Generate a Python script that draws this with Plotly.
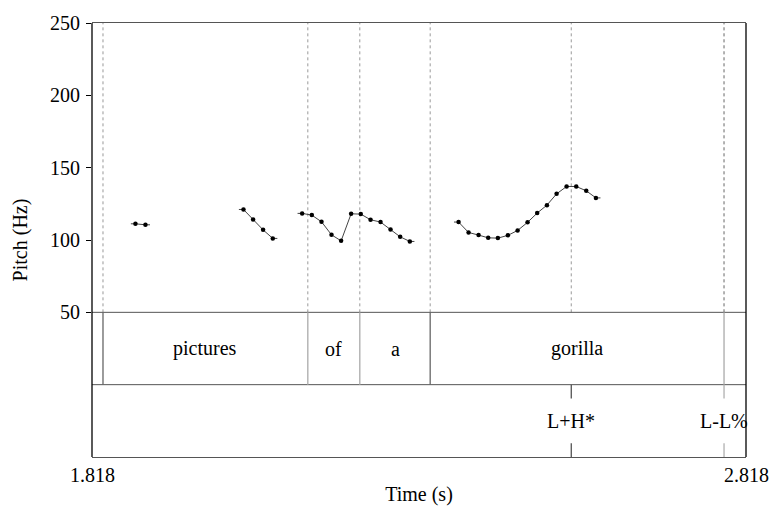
import plotly.graph_objects as go

# ---- data -----------------------------------------------------------------
t_min, t_max = 1.818, 2.818
x_tick_vals = [1.818, 2.818]
x_tick_text = ["1.818", "2.818"]
y_tick_vals = [50, 100, 150, 200, 250]

# pitch contour segments (time s, F0 Hz)
seg1_t = [1.8844, 1.8997]
seg1_f = [111.2, 110.5]
seg2_t = [2.0496, 2.0643, 2.0796, 2.0944]
seg2_f = [121.1, 114.2, 107.0, 101.1]
seg3_t = [2.1393, 2.1541, 2.1689, 2.1842, 2.1989, 2.2142, 2.2290, 2.2439,
          2.2592, 2.2745, 2.2892, 2.3040]
seg3_f = [118.4, 117.2, 112.6, 103.6, 99.4, 118.1, 117.9, 114.0, 112.4,
          107.3, 102.2, 99.0]
seg4_t = [2.3785, 2.3938, 2.4091, 2.4238, 2.4386, 2.4539, 2.4688, 2.4840,
          2.4987, 2.5136, 2.5284, 2.5437, 2.5584, 2.5737, 2.5885]
seg4_f = [112.4, 105.2, 103.4, 101.5, 101.3, 103.2, 106.6, 112.2, 118.6,
          124.1, 131.9, 137.0, 137.0, 134.0, 129.1]
segments = [(seg1_t, seg1_f), (seg2_t, seg2_f), (seg3_t, seg3_f), (seg4_t, seg4_f)]

# word tier
word_bounds = [1.8348, 2.1480, 2.2275, 2.3351, 2.7844]
word_bound_dark = [True, False, False, True, False]
words = ["pictures", "of", "a", "gorilla"]

# tone tier (points)
tone_times = [2.5508, 2.7844]
tone_labels = ["L+H*", "L-L%"]
tone_dark = [True, False]

# ---- figure ---------------------------------------------------------------
FONT = "Liberation Serif"
FS = 20
fig = go.Figure()

half = 0.007
for ts, fs in segments:
    # edge stubs (half frame)
    fig.add_trace(go.Scatter(x=[ts[0] - half, ts[0]], y=[fs[0], fs[0]], mode="lines",
                             line=dict(color="#444", width=1), hoverinfo="skip", showlegend=False))
    fig.add_trace(go.Scatter(x=[ts[-1], ts[-1] + half], y=[fs[-1], fs[-1]], mode="lines",
                             line=dict(color="#444", width=1), hoverinfo="skip", showlegend=False))
    fig.add_trace(go.Scatter(x=ts, y=fs, mode="lines+markers",
                             line=dict(color="#444", width=1),
                             marker=dict(color="black", size=4.5),
                             showlegend=False))

shapes = []
# dotted lines across pitch area
for t in word_bounds + tone_times:
    shapes.append(dict(type="line", xref="x", yref="y", x0=t, x1=t, y0=50, y1=250,
                       line=dict(color="#999", width=1, dash="dot"), layer="below"))
# tier separators
for yv in [50, 0]:
    shapes.append(dict(type="line", xref="paper", yref="y", x0=0, x1=1, y0=yv, y1=yv,
                       line=dict(color="#555", width=1)))
# word boundaries
for t, dark in zip(word_bounds, word_bound_dark):
    shapes.append(dict(type="line", xref="x", yref="y", x0=t, x1=t, y0=0, y1=50,
                       line=dict(color="#666" if dark else "#aaa", width=1.3)))
# tone point ticks
for t, dark in zip(tone_times, tone_dark):
    col = "#444" if dark else "#aaa"
    shapes.append(dict(type="line", xref="x", yref="y", x0=t, x1=t, y0=0, y1=-9.5,
                       line=dict(color=col, width=1.2)))
    shapes.append(dict(type="line", xref="x", yref="y", x0=t, x1=t, y0=-40.5, y1=-50,
                       line=dict(color=col, width=1.2)))

annotations = []
for i, w in enumerate(words):
    annotations.append(dict(x=(word_bounds[i] + word_bounds[i + 1]) / 2, y=25, xref="x", yref="y",
                            text=w, showarrow=False, font=dict(family=FONT, size=FS, color="black")))
for t, lab in zip(tone_times, tone_labels):
    annotations.append(dict(x=t, y=-25, xref="x", yref="y", text=lab, showarrow=False,
                            font=dict(family=FONT, size=FS, color="black")))
# x tick labels (drawn as annotations so the edge label is never dropped)
for tv, tt in zip(x_tick_vals, x_tick_text):
    annotations.append(dict(x=tv, y=0, xref="x", yref="paper", yanchor="top", yshift=-5,
                            text=tt, showarrow=False, font=dict(family=FONT, size=FS, color="black")))

fig.update_layout(
    width=770, height=510,
    margin=dict(l=92, r=24, t=23, b=53),
    plot_bgcolor="white", paper_bgcolor="white",
    shapes=shapes, annotations=annotations,
    font=dict(family=FONT, size=FS, color="black"),
    xaxis=dict(range=[t_min, t_max], showticklabels=False,
               showgrid=False, zeroline=False, showline=True, linecolor="#555", linewidth=1.3,
               mirror=True, ticks="", automargin=False,
               title=dict(text="Time (s)", standoff=29, font=dict(family=FONT, size=FS))),
    yaxis=dict(range=[-50, 250], tickvals=y_tick_vals, showgrid=False, zeroline=False,
               showline=False, ticks="outside", ticklen=5, tickcolor="black", automargin=False,
               ticklabelstandoff=2,
               title=dict(text="Pitch (Hz)", standoff=17, font=dict(family=FONT, size=FS))),
)
# left/right black borders
fig.add_shape(type="line", xref="paper", yref="paper", x0=0, x1=0, y0=0, y1=1,
              line=dict(color="black", width=1.3))
fig.add_shape(type="line", xref="paper", yref="paper", x0=1, x1=1, y0=0, y1=1,
              line=dict(color="black", width=1.3))

fig.write_html("out.html", config={"displayModeBar": False},
               post_script="document.body.style.margin='0';document.body.style.overflow='hidden';")
